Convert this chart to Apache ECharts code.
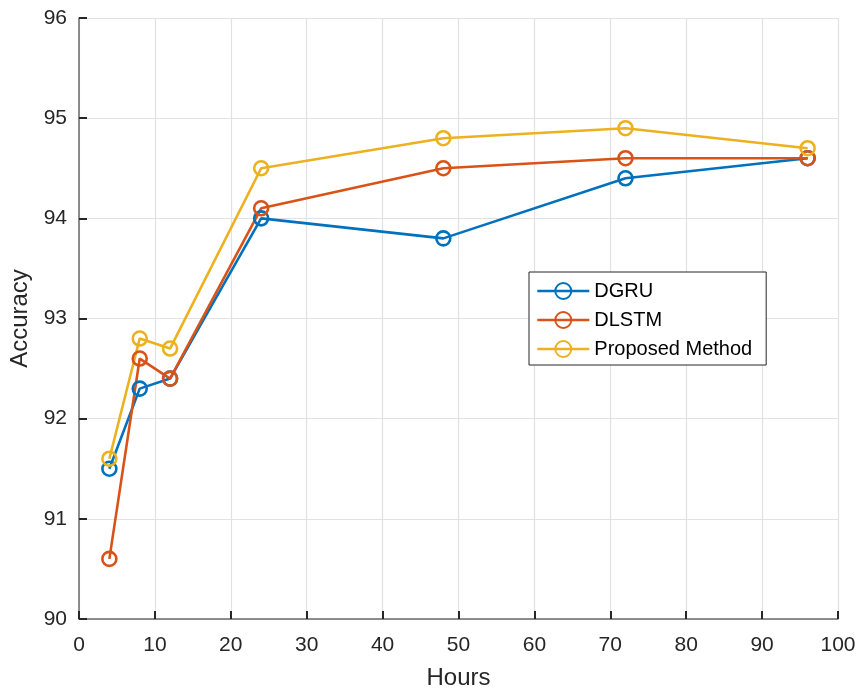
<!DOCTYPE html>
<html>
<head>
<meta charset="utf-8">
<script src="https://cdn.jsdelivr.net/npm/echarts@6/dist/echarts.min.js"></script>
<style>
  html, body { margin: 0; padding: 0; background: #fff; }
  #chart { width: 857px; height: 688px; }
</style>
</head>
<body>
<div id="chart"></div>
<script>
// hours on the x axis
const hours = [4, 8, 12, 24, 48, 72, 96];
const dgru = [91.5, 92.3, 92.4, 94.0, 93.8, 94.4, 94.6];
const dlstm = [90.6, 92.6, 92.4, 94.1, 94.5, 94.6, 94.6];
const proposed = [91.6, 92.8, 92.7, 94.5, 94.8, 94.9, 94.7];

const seriesNames = ["DGRU", "DLSTM", "Proposed Method"];
const seriesColors = ["#0072BD", "#D95319", "#EDB120"];

const axisColor = "#262626";
const font = "Arial, 'Liberation Sans', sans-serif";

function pairs(vals) {
  return hours.map((h, i) => [h, vals[i]]);
}

function mkSeries(name, vals, color) {
  return {
    name: name,
    type: "line",
    data: pairs(vals),
    symbol: "circle",
    symbolSize: 14,
    lineStyle: { color: color, width: 2.6 },
    itemStyle: { color: "rgba(255,255,255,0)", borderColor: color, borderWidth: 2.6 },
    emphasis: { disabled: true },
    z: 3
  };
}

const chart = echarts.init(document.getElementById("chart"));

const tickInside = { show: true, inside: true, length: 8, lineStyle: { color: axisColor, width: 2 } };
const axLine = { show: true, onZero: false, lineStyle: { color: "#6b6b6b", width: 1.5 } };
const grid = { show: true, lineStyle: { color: "#e2e2e2", width: 1.2 } };

chart.setOption({
  animation: false,
  backgroundColor: "#fff",
  textStyle: { fontFamily: font },
  grid: { left: 79, right: 19, top: 18, bottom: 69, containLabel: false, outerBoundsMode: "none" },
  legend: {
    orient: "vertical",
    left: 529,
    top: 272,
    padding: [9, 14, 6, 7],
    itemWidth: 52,
    itemHeight: 20,
    itemGap: 9,
    borderColor: axisColor,
    borderWidth: 1,
    backgroundColor: "#fff",
    lineStyle: { width: 2.6 },
    data: seriesNames,
    textStyle: { fontSize: 20, color: "#000", fontFamily: font }
  },
  xAxis: {
    type: "value",
    min: 0,
    max: 100,
    interval: 10,
    name: "Hours",
    nameLocation: "middle",
    nameGap: 47,
    nameTextStyle: { fontSize: 24, color: axisColor },
    axisLine: axLine,
    axisTick: tickInside,
    axisLabel: { fontSize: 21, color: axisColor, margin: 16 },
    splitLine: grid
  },
  yAxis: {
    type: "value",
    min: 90,
    max: 96,
    interval: 1,
    name: "Accuracy",
    nameLocation: "middle",
    nameGap: 47,
    nameTextStyle: { fontSize: 24, color: axisColor },
    axisLine: axLine,
    axisTick: tickInside,
    axisLabel: { fontSize: 21, color: axisColor, margin: 12 },
    splitLine: grid
  },
  series: [
    mkSeries(seriesNames[0], dgru, seriesColors[0]),
    mkSeries(seriesNames[1], dlstm, seriesColors[1]),
    mkSeries(seriesNames[2], proposed, seriesColors[2])
  ]
});
</script>
</body>
</html>
